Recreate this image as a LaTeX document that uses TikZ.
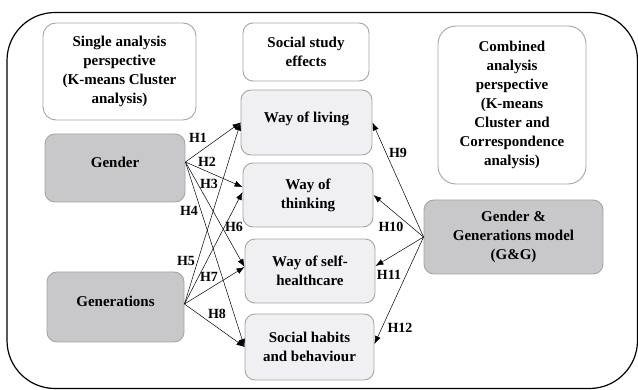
\documentclass[tikz,border=0pt]{standalone}
\usepackage{fontspec}
\setmainfont{Liberation Serif}
\usetikzlibrary{arrows.meta}
\definecolor{boxline}{RGB}{165,165,168}
\definecolor{darkfill}{RGB}{200,200,202}
\definecolor{lightfill}{RGB}{240,240,242}
\begin{document}
\begin{tikzpicture}[x=1pt, y=-1pt,
        box/.style={draw=boxline, line width=0.9pt, rounded corners=10pt, inner sep=0pt,
            align=center, font=\bfseries\fontsize{15}{19}\selectfont},
        titlebox/.style={box, fill=white},
        effectbox/.style={box, fill=lightfill},
        factorbox/.style={box, fill=darkfill},
        hyp/.style={font=\bfseries\fontsize{14}{16}\selectfont, inner sep=0pt},
        link/.style={line width=0.5pt, -{Latex[length=8pt, width=6pt]}}]
        \useasboundingbox (0,0) rectangle (638,390);
        \draw[line width=1.2pt, rounded corners=48pt] (7,12.5) rectangle (637.5,388.5);
        % title boxes
        \node[titlebox, minimum width=153pt, minimum height=97pt, rounded corners=13pt] (single) at (119.5,71.5)
            {Single analysis\\perspective\\(K-means Cluster\\analysis)};
        \node[titlebox, minimum width=126pt, minimum height=58pt] (study) at (306,52) {Social study\\effects};
        \node[titlebox, minimum width=148pt, minimum height=158pt, rounded corners=18pt] (combined) at (512,105)
            {Combined\\analysis\\perspective\\(K-means\\Cluster and\\Correspondence\\analysis)};
        % effects
        \node[effectbox, minimum width=131pt, minimum height=65pt] (living) at (306.5,122.5) {Way of living\\[-8pt]};
        \node[effectbox, minimum width=130pt, minimum height=64pt] (thinking) at (308,195) {Way of\\thinking};
        \node[effectbox, minimum width=130pt, minimum height=64pt] (selfcare) at (310,271) {Way of self-\\healthcare};
        \node[effectbox, minimum width=129pt, minimum height=66pt] (habits) at (309.5,347) {Social habits\\and behaviour};
        % factors
        \node[factorbox, minimum width=140pt, minimum height=68pt] (gender) at (115,168) {Gender\\[-7pt]};
        \node[factorbox, minimum width=137pt, minimum height=70pt] (generations) at (115.5,307) {Generations\\[-7pt]};
        \node[factorbox, minimum width=179pt, minimum height=74pt] (gg) at (513.5,237)
            {Gender \&\\Generations model\\(G\&G)};
        % hypotheses
        \draw[link] ([yshift=6pt]gender.east) -- (living.west);
        \draw[link] ([yshift=6pt]gender.east) -- ([yshift=8pt]thinking.west);
        \draw[link] ([yshift=6pt]gender.east) -- ([yshift=4pt]selfcare.west);
        \draw[link] ([yshift=6pt]gender.east) -- (habits.west);
        \draw[link] ([yshift=3pt]generations.east) -- (living.west);
        \draw[link] ([yshift=3pt]generations.east) -- ([yshift=3pt]thinking.west);
        \draw[link] ([yshift=3pt]generations.east) -- ([yshift=4pt]selfcare.west);
        \draw[link] ([yshift=3pt]generations.east) -- (habits.west);
        \draw[link] (gg.west) -- (living.east);
        \draw[link] (gg.west) -- (thinking.east);
        \draw[link] (gg.west) -- ([yshift=5pt]selfcare.east);
        \draw[link] (gg.west) -- ([yshift=3pt]habits.east);
        \node[hyp] (h1) at (198,138) {H1};
        \node[hyp] (h2) at (207,162) {H2};
        \node[hyp] (h3) at (209,184) {H3};
        \node[hyp] (h4) at (189,211) {H4};
        \node[hyp] (h5) at (186,261) {H5};
        \node[hyp] (h6) at (234,227) {H6};
        \node[hyp] (h7) at (209,277) {H7};
        \node[hyp] (h8) at (217,314) {H8};
        \node[hyp] (h9) at (398,153) {H9};
        \node[hyp] (h10) at (391,227) {H10};
        \node[hyp] (h11) at (389,275) {H11};
        \node[hyp] (h12) at (400,328) {H12};
    \end{tikzpicture}
\end{document}
